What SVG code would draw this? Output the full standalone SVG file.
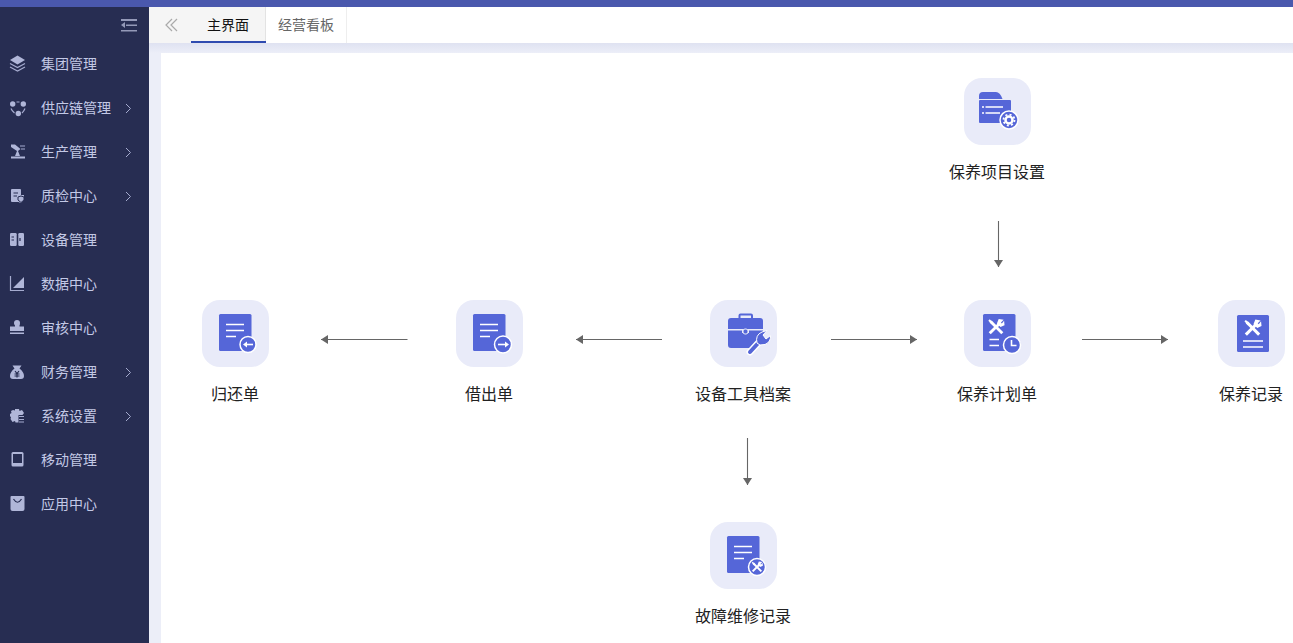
<svg xmlns="http://www.w3.org/2000/svg" width="1293" height="643" viewBox="0 0 1293 643">
<defs>
<linearGradient id="shade" x1="0" y1="0" x2="0" y2="1"><stop offset="0" stop-color="#dfe2f1"/><stop offset="1" stop-color="#eceef8"/></linearGradient>
<marker id="arrow" markerUnits="userSpaceOnUse" markerWidth="8" markerHeight="9" refX="7" refY="4.500" orient="auto"><path d="M0 0L7 4.500L0 9Z" fill="#666"/></marker>
<rect id="tile" width="67" height="67" rx="18" fill="#e9ebf9"/>
<rect id="doc" x="17" y="14" width="32.500" height="37" rx="1.500" fill="#5566d8"/>
<path id="lines" d="M24 24.500H42M24 30.500H42M24 36.500H34" stroke="#fff" stroke-width="1.500" fill="none"/>
<g id="tools"><path d="M-6 -6L7 7" stroke="#fff" stroke-width="3.200" fill="none"/><path d="M-8.500 -7L-7 -8.500L-3 -5L-5 -3Z" fill="#fff"/><path d="M-7 7L4 -4" stroke="#fff" stroke-width="3.200" fill="none"/><path d="M3 -9L8.500 -8L5.500 -5L6.500 -4L9 -7L9.500 -2L5 0L1 -4Z" fill="#fff"/></g>
</defs>
<style>
text{font-family:"Noto Sans CJK SC","Noto Sans",sans-serif}
.m{font-size:14px;fill:#c3c9e6}
.l{font-size:16px;fill:#222;text-anchor:middle}
.t{font-size:14px}
.i{fill:#b0b6d8}
.c{fill:none;stroke:#a5abcf;stroke-width:1.200}
.h{fill:none;stroke:#a5abcf;stroke-width:1}
.d{fill:none;stroke:#272d52;stroke-width:1.200}
.e{fill:#5566d8}
.r{fill:#5566d8;stroke:#fff;stroke-width:1.500}
.k{stroke:#666;stroke-width:1.100;fill:none;marker-end:url(#arrow)}
</style>
<rect width="1293" height="643" fill="#eceef8"/>
<rect width="1293" height="7" fill="#4a58ad"/>
<rect x="149" y="7" width="1144" height="36" fill="#fff"/>
<rect x="149" y="43" width="1144" height="10" fill="url(#shade)"/>
<rect x="161" y="53" width="1132" height="590" fill="#fff"/>

<g id="sidebar">
<rect y="7" width="149" height="636" fill="#272d52"/>
<g id="collapse" fill="#9499b8"><rect x="121" y="19" width="16" height="2"/><rect x="126" y="24.500" width="11" height="1.500"/><rect x="121" y="30" width="16" height="1.500"/><path d="M121 25L125 22V28Z"/></g>
<g id="menu-1"><path class="i" d="M17.500 55.500L25 60L17.500 64.500L10 60Z"/><path class="c" d="M10 63.500L17.500 67.500L25 63.500M10 67L17.500 71L25 67"/><text class="m" x="41" y="69">集团管理</text></g>
<g id="menu-2"><circle class="i" cx="12.700" cy="104" r="2.700"/><circle class="i" cx="23.300" cy="104" r="2.700"/><circle class="i" cx="18.300" cy="113.500" r="2.700"/><path class="c" d="M16.500 102H19.500M11 108.500Q12 111 14.500 113M25 108.500Q24 111 22 113"/><text class="m" x="41" y="113">供应链管理</text><path class="h" d="M126 104L130.500 108.500L126 113"/></g>
<g id="menu-3"><rect class="i" x="11" y="156.500" width="14" height="2"/><path class="i" d="M15 156L17 151L11 147V144.500H15L20.500 149L18 151L20 156Z"/><path class="c" d="M20 146H25M21 149H25M24.500 145.500V146"/><text class="m" x="41" y="157">生产管理</text><path class="h" d="M126 148L130.500 152.500L126 157"/></g>
<g id="menu-4"><path class="i" d="M11 190Q11 189 12 189H20Q21 189 21 190V195H24V200L20.500 203L18.500 202H12Q11 202 11 201Z"/><path class="d" d="M13.500 193H18M13.500 196H17"/><path d="M18 197L21 196L24 197V200L21 202.500L18 200Z" fill="#b0b6d8" stroke="#272d52"/><text class="m" x="41" y="201">质检中心</text><path class="h" d="M126 192L130.500 196.500L126 201"/></g>
<g id="menu-5"><rect class="i" x="10" y="233" width="6.700" height="13" rx="1.200"/><rect class="i" x="18.300" y="233" width="5.700" height="13" rx="1.200"/><path class="d" d="M11.500 237H14M11.500 240H14M20 238V241"/><text class="m" x="41" y="245">设备管理</text></g>
<g id="menu-6"><path class="c" d="M10.500 276V290.500H24"/><path class="i" d="M13 288L24 277V288Z"/><text class="m" x="41" y="289">数据中心</text></g>
<g id="menu-7"><circle class="i" cx="17" cy="323" r="3"/><path class="i" d="M15 324H19.500V326.500H24V331H10V326.500H15Z"/><rect class="i" x="10" y="332.500" width="14" height="1.500"/><text class="m" x="41" y="333">审核中心</text></g>
<g id="menu-8"><path class="i" d="M12.500 365.500H21.500L19.500 368.500Q24 372 24 376Q24 379 21 379H13Q10 379 10 376Q10 372 14.500 368.500Z"/><path class="d" d="M15 371L17 373.500L19 371M17 373.500V377.500M14.500 374H19.500M14.500 376H19.500" stroke-width=".800"/><text class="m" x="41" y="377">财务管理</text><path class="h" d="M126 368L130.500 372.500L126 377"/></g>
<g id="menu-9"><path class="i" d="M15 409H19L19.500 411L22 410L24 413L22.500 415H18.500V422.500H15.500L15 421L12.500 422L10.500 419L11 417.500L10 416V414L11.500 413L11 411L13 410L15 410.500Z"/><path class="c" d="M19 416.500H24M19 419.500H24M19 422H24"/><text class="m" x="41" y="421">系统设置</text><path class="h" d="M126 412L130.500 416.500L126 421"/></g>
<g id="menu-10"><rect class="i" x="11.500" y="452" width="12" height="14.500" rx="1.500"/><rect x="13" y="454" width="9" height="9" fill="#272d52"/><text class="m" x="41" y="465">移动管理</text></g>
<g id="menu-11"><path class="i" d="M11.500 496H23.500Q24.500 496 24.500 497V509Q24.500 511 22.500 511H12.500Q10.500 511 10.500 509V497Q10.500 496 11.500 496Z"/><path class="d" d="M13.500 499Q17.500 505.500 21.500 499"/><text class="m" x="41" y="509">应用中心</text></g>
</g>

<g id="tabs">
<rect x="149" y="7" width="42" height="36" fill="#f5f5f5"/>
<path d="M172 19L166 25L172 31M177 19L171 25L177 31" fill="none" stroke="#aaa" stroke-width="1.200"/>
<g id="tab-1"><rect x="191" y="7" width="75" height="36" fill="#f5f5f5"/><rect x="191" y="41" width="75" height="2" fill="#2f4bb0"/><rect x="265" y="7" width="1" height="34" fill="#e3e3e3"/><text class="t" x="207" y="30" fill="#111">主界面</text></g>
<g id="tab-2"><rect x="346" y="7" width="1" height="36" fill="#eee"/><text class="t" x="278" y="30" fill="#666">经营看板</text></g>
</g>

<g id="connectors">
<path class="k" d="M998.500 221V267"/>
<path class="k" d="M407.500 339.500H321"/>
<path class="k" d="M662 339.500H576"/>
<path class="k" d="M831 339.500H917"/>
<path class="k" d="M1082 339.500H1168"/>
<path class="k" d="M747.500 438V485"/>
</g>

<g id="node-settings" transform="translate(964 78)"><use href="#tile"/>
<path class="e" d="M15 21V18Q15 14 19 14H32Q36 14 38.500 21Z"/><rect class="e" x="15" y="22" width="32" height="23" rx="1"/>
<path d="M21.500 29H39M21.500 35H36" stroke="#fff" stroke-width="1.500" fill="none"/><path d="M18 29H20M18 35H20" stroke="#fff" stroke-width="1.500" fill="none"/>
<circle class="r" cx="45" cy="42" r="9"/><circle cx="45" cy="42" r="3.500" fill="none" stroke="#fff" stroke-width="2.500"/><circle cx="45" cy="42" r="5.500" fill="none" stroke="#fff" stroke-width="1.800" stroke-dasharray="2 2.300"/>
<text class="l" x="33" y="100">保养项目设置</text></g>

<g id="node-return" transform="translate(202 300)"><use href="#tile"/><use href="#doc"/><use href="#lines"/>
<circle class="r" cx="46" cy="44.500" r="8"/><path d="M51 44.500H43" stroke="#fff" stroke-width="1.600"/><path d="M41 44.500L45 41.500V47.500Z" fill="#fff"/>
<text class="l" x="33" y="100">归还单</text></g>

<g id="node-borrow" transform="translate(456 300)"><use href="#tile"/><use href="#doc"/><use href="#lines"/>
<circle class="r" cx="47" cy="44.500" r="8.500"/><path d="M42 44.500H50" stroke="#fff" stroke-width="1.600"/><path d="M53 44.500L49 41.500V47.500Z" fill="#fff"/>
<text class="l" x="33" y="100">借出单</text></g>

<g id="node-archive" transform="translate(710 300)"><use href="#tile"/>
<path d="M29.500 18V15.500Q29.500 14.500 30.500 14.500H41Q42 14.500 42 15.500V18" fill="none" stroke="#5566d8" stroke-width="2"/>
<path class="e" d="M21 18H50Q53 18 53 21V29H18V21Q18 18 21 18Z"/>
<path class="e" d="M18 30.500H32V33H39V30.500H53V33L41 48H21Q18 48 18 45Z"/>
<rect x="33" y="29" width="5" height="5" rx="2" fill="#5566d8" stroke="#e9ebf9" stroke-width="1"/>
<path d="M40 52L51 40" stroke="#fff" stroke-width="7" stroke-linecap="round"/>
<path d="M40 52L51 40" stroke="#5566d8" stroke-width="4" stroke-linecap="round"/>
<path d="M47 43Q45 35 52 32L57 30.500L53 35L56 39L60.500 35.500Q61 42 55 44.500L50 45Z" fill="#5566d8" stroke="#fff" stroke-width="1"/>
<path d="M48.500 41.500L51.500 44L53 42L50 39.500Z" fill="#5566d8"/>
<text class="l" x="33" y="100">设备工具档案</text></g>

<g id="node-plan" transform="translate(964 300)"><use href="#tile"/><rect class="e" x="19" y="14" width="32.500" height="37" rx="1.500"/>
<g transform="translate(32 27) scale(.9)"><use href="#tools"/></g>
<path d="M25.500 39.500H35M25.500 45.500H35" stroke="#fff" stroke-width="1.500" fill="none"/>
<circle class="r" cx="48" cy="45" r="8.500"/><path d="M47.500 40V45.500H52.500" stroke="#fff" stroke-width="1.600" fill="none"/>
<text class="l" x="33" y="100">保养计划单</text></g>

<g id="node-record" transform="translate(1218 300)"><use href="#tile"/><rect class="e" x="19" y="15" width="32" height="37" rx="1.500"/>
<g transform="translate(34.500 28) scale(.95)"><use href="#tools"/></g>
<path d="M25 41H45M25 47H45" stroke="#fff" stroke-width="1.500" fill="none"/>
<text class="l" x="33" y="100">保养记录</text></g>

<g id="node-repair" transform="translate(710 522)"><use href="#tile"/><use href="#doc"/><use href="#lines"/>
<circle class="r" cx="47" cy="45" r="8.500"/><g transform="translate(47 45) scale(.62)"><use href="#tools"/></g>
<text class="l" x="33" y="100">故障维修记录</text></g>
</svg>
